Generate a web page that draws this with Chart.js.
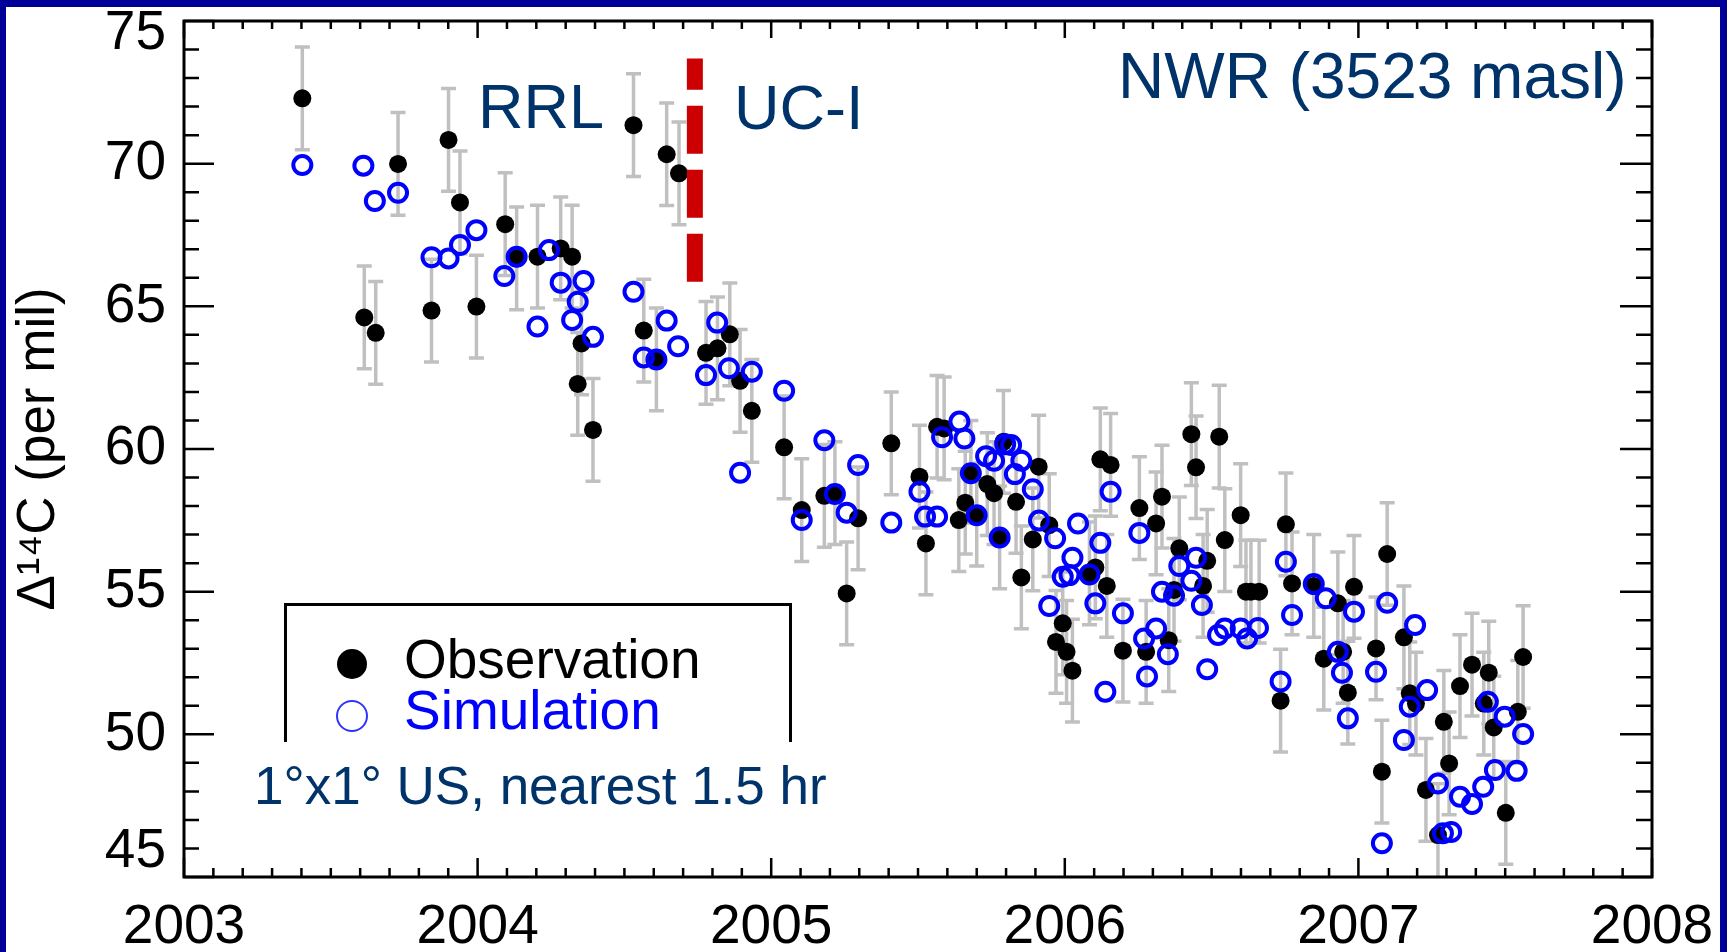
<!DOCTYPE html>
<html>
<head>
<meta charset="utf-8">
<script src="https://cdn.jsdelivr.net/npm/chart.js@4.4.0/dist/chart.umd.min.js"></script>
<style>
  html, body { margin: 0; padding: 0; background: #fff; }
  #wrap { position: relative; width: 1727px; height: 952px; overflow: hidden; }
  #chart { position: absolute; left: 0; top: 0; }
  .txt { position: absolute; font-family: "Liberation Sans", Arial, sans-serif; line-height: 1; white-space: nowrap; }
  .note { color: #00336a; }
  #legendBox { position: absolute; left: 284px; top: 603px; width: 508px; height: 160px; box-sizing: border-box;
    border: 3px solid #000; border-bottom: none; }
  .sym { position: absolute; box-sizing: border-box; border-radius: 50%; }
</style>
</head>
<body>
<div id="wrap">
  <canvas id="chart" width="1727" height="952"></canvas>
  <div id="legendBox"></div>
  <div class="sym" style="left:337px; top:649px; width:30px; height:30px; background:#000;"></div>
  <div class="sym" style="left:336px; top:700px; width:32px; height:32px; border:2px solid #3333ff;"></div>
  <div class="txt" style="left:404px; top:632px; font-size:55px; color:#000;">Observation</div>
  <div class="txt" style="left:404px; top:683px; font-size:55px; color:#0000ff;">Simulation</div>
  <div class="txt note" style="left:244px; top:742px; padding:17px 8px 14px 10px; font-size:53px; background:#fff;">1°x1° US, nearest 1.5 hr</div>
  <div class="txt note" style="left:478px; top:75px; font-size:63px;">RRL</div>
  <div class="txt note" style="left:734px; top:76px; font-size:63px;">UC-I</div>
  <div class="txt note" style="left:1118px; top:44px; font-size:64px;">NWR (3523 masl)</div>
</div>
<script>
// observations (black dots) with error bars, per mil
const obsX = [
  2003.403, 2003.614, 2003.653, 2003.729, 2003.843, 2003.901, 2003.940, 2003.996, 2004.094, 2004.133,
  2004.204, 2004.283, 2004.322, 2004.341, 2004.354, 2004.393, 2004.531, 2004.566, 2004.609, 2004.644,
  2004.686, 2004.778, 2004.817, 2004.859, 2004.894, 2004.934, 2005.044, 2005.104, 2005.181, 2005.217,
  2005.257, 2005.296, 2005.409, 2005.505, 2005.527, 2005.565, 2005.589, 2005.639, 2005.661, 2005.680,
  2005.700, 2005.736, 2005.759, 2005.778, 2005.791, 2005.834, 2005.852, 2005.891, 2005.911, 2005.947,
  2005.970, 2005.993, 2006.006, 2006.026, 2006.084, 2006.104, 2006.121, 2006.143, 2006.156, 2006.198,
  2006.254, 2006.277, 2006.311, 2006.331, 2006.354, 2006.372, 2006.390, 2006.431, 2006.447, 2006.471,
  2006.485, 2006.526, 2006.545, 2006.599, 2006.617, 2006.634, 2006.662, 2006.735, 2006.753, 2006.774,
  2006.848, 2006.882, 2006.930, 2006.948, 2006.964, 2006.985, 2007.060, 2007.080, 2007.098, 2007.155,
  2007.175, 2007.196, 2007.230, 2007.271, 2007.291, 2007.309, 2007.346, 2007.387, 2007.427, 2007.444,
  2007.461, 2007.502, 2007.543, 2007.561
];
const obsY = [
  72.29, 64.61, 64.07, 69.99, 64.85, 70.83, 68.64, 64.99, 67.88, 66.68,
  66.74, 67.03, 66.74, 62.28, 63.70, 60.67, 71.35, 64.15, 63.14, 70.33,
  69.66, 63.37, 63.53, 64.02, 62.39, 61.34, 60.06, 57.86, 58.36, 58.45,
  54.94, 57.57, 60.20, 59.03, 56.69, 60.78, 60.72, 57.51, 58.12, 59.20,
  57.70, 58.77, 58.45, 56.90, 60.25, 58.15, 55.50, 56.83, 59.38, 57.33,
  53.24, 53.89, 52.89, 52.23, 55.64, 55.85, 59.64, 55.20, 59.44, 52.93,
  57.93, 52.89, 57.39, 58.33, 53.30, 55.06, 56.52, 60.52, 59.36, 55.20,
  56.08, 60.43, 56.81, 57.68, 55.00, 55.00, 55.00, 51.18, 57.36, 55.29,
  55.20, 52.65, 54.59, 52.89, 51.46, 55.17, 53.01, 48.69, 56.32, 53.40,
  51.44, 51.08, 48.05, 46.47, 50.44, 48.98, 51.69, 52.44, 51.08, 52.16,
  50.24, 47.25, 50.79, 52.71
];
const obsErr = [
  1.8, 1.8, 1.8, 1.8, 1.8, 1.8, 1.8, 1.8, 1.8, 1.8,
  1.8, 1.8, 1.8, 1.8, 1.8, 1.8, 1.8, 1.8, 1.8, 1.8,
  1.8, 1.8, 1.8, 1.8, 1.8, 1.8, 1.8, 1.8, 1.8, 1.8,
  1.8, 1.8, 1.8, 1.8, 1.8, 1.8, 1.8, 1.8, 1.8, 1.8,
  1.8, 1.8, 1.8, 1.8, 1.8, 1.8, 1.8, 1.8, 1.8, 1.8,
  1.8, 1.8, 1.8, 1.8, 1.8, 1.8, 1.8, 1.8, 1.8, 1.8,
  1.8, 1.8, 1.8, 1.8, 1.8, 1.8, 1.8, 1.8, 1.8, 1.8,
  1.8, 1.8, 1.8, 1.8, 1.8, 1.8, 1.8, 1.8, 1.8, 1.8,
  1.8, 1.8, 1.8, 1.8, 1.8, 1.8, 1.8, 1.8, 1.8, 1.8,
  1.8, 1.8, 1.8, 1.8, 1.8, 1.8, 1.8, 1.8, 1.8, 1.8,
  1.8, 1.8, 1.8, 1.8
];

// simulation (blue open circles)
const simX = [
  2003.403, 2003.611, 2003.650, 2003.729, 2003.843, 2003.901, 2003.940, 2003.996, 2004.091, 2004.133,
  2004.204, 2004.243, 2004.283, 2004.322, 2004.341, 2004.361, 2004.393, 2004.531, 2004.566, 2004.609,
  2004.644, 2004.683, 2004.778, 2004.816, 2004.856, 2004.894, 2004.934, 2005.044, 2005.104, 2005.181,
  2005.217, 2005.257, 2005.296, 2005.409, 2005.505, 2005.524, 2005.565, 2005.582, 2005.641, 2005.658,
  2005.680, 2005.700, 2005.732, 2005.759, 2005.778, 2005.797, 2005.817, 2005.830, 2005.852, 2005.891,
  2005.912, 2005.947, 2005.967, 2005.993, 2006.016, 2006.026, 2006.045, 2006.084, 2006.104, 2006.121,
  2006.138, 2006.156, 2006.198, 2006.254, 2006.270, 2006.280, 2006.311, 2006.331, 2006.351, 2006.372,
  2006.390, 2006.431, 2006.447, 2006.467, 2006.485, 2006.522, 2006.545, 2006.599, 2006.621, 2006.658,
  2006.735, 2006.753, 2006.774, 2006.848, 2006.889, 2006.930, 2006.944, 2006.964, 2006.985, 2007.060,
  2007.080, 2007.098, 2007.155, 2007.175, 2007.193, 2007.234, 2007.271, 2007.288, 2007.316, 2007.346,
  2007.387, 2007.425, 2007.441, 2007.465, 2007.498, 2007.539, 2007.561
];
const simY = [
  69.95, 69.93, 68.69, 68.98, 66.72, 66.68, 67.15, 67.67, 66.06, 66.74,
  64.29, 66.97, 65.83, 64.52, 65.16, 65.89, 63.93, 65.51, 63.21, 63.14,
  64.50, 63.60, 62.59, 64.43, 62.83, 59.17, 62.71, 62.04, 57.51, 60.31,
  58.42, 57.77, 59.44, 57.42, 58.50, 57.63, 57.63, 60.41, 60.96, 60.37,
  59.15, 57.68, 59.75, 59.59, 56.90, 60.17, 60.14, 59.12, 59.59, 58.59,
  57.49, 54.50, 56.87, 55.52, 55.58, 56.19, 57.39, 55.60, 54.59, 56.71,
  51.49, 58.50, 54.24, 57.06, 53.36, 52.03, 53.71, 55.00, 52.81, 54.86,
  55.90, 55.38, 56.19, 54.53, 52.28, 53.48, 53.71, 53.71, 53.36, 53.73,
  51.85, 56.05, 54.18, 55.27, 54.77, 52.89, 52.16, 50.56, 54.30, 52.19,
  46.18, 54.61, 49.80, 50.97, 53.83, 51.55, 48.28, 46.53, 46.58, 47.81,
  47.56, 48.16, 51.14, 48.75, 50.62, 48.72, 50.01
];

// RRL -> UC-I lab change marker
const dividerX = [2004.74, 2004.74];
const dividerY = [65.86, 73.69];

const yearTicks = [2003, 2004, 2005, 2006, 2007, 2008];

const NAVY = "#000098";
const GRAY = "#c0c0c0";

Chart.defaults.font.family = "'Liberation Sans', Arial, sans-serif";
Chart.defaults.color = "#000";

const pts = (xs, ys) => xs.map((x, i) => ({ x, y: ys[i] }));

const decor = {
  id: "decor",
  beforeDraw(chart) {
    const { ctx, width, height } = chart;
    ctx.save();
    ctx.fillStyle = NAVY;
    ctx.fillRect(0, 0, width, height);
    ctx.fillStyle = "#fff";
    ctx.fillRect(6, 7, width - 13, height - 7);
    ctx.restore();
  },
  beforeDatasetsDraw(chart) {
    // grey error bars under the points
    const { ctx, chartArea: a } = chart;
    const { x, y } = chart.scales;
    ctx.save();
    ctx.beginPath();
    ctx.rect(a.left, a.top, a.right - a.left, a.bottom - a.top);
    ctx.clip();
    ctx.strokeStyle = GRAY;
    ctx.lineWidth = 3.5;
    obsX.forEach((v, i) => {
      const px = x.getPixelForValue(v);
      const hi = y.getPixelForValue(obsY[i] + obsErr[i]);
      const lo = y.getPixelForValue(obsY[i] - obsErr[i]);
      ctx.beginPath();
      ctx.moveTo(px, hi); ctx.lineTo(px, lo);
      ctx.moveTo(px - 7.5, hi); ctx.lineTo(px + 7.5, hi);
      ctx.moveTo(px - 7.5, lo); ctx.lineTo(px + 7.5, lo);
      ctx.stroke();
    });
    ctx.restore();
  },
  afterDraw(chart) {
    // box frame with inward ticks on all four sides
    const { ctx, chartArea: a } = chart;
    const { x, y } = chart.scales;
    ctx.save();
    ctx.strokeStyle = "#000";
    ctx.lineWidth = 3;
    ctx.strokeRect(a.left, a.top, a.right - a.left, a.bottom - a.top);
    ctx.lineWidth = 2.5;
    ctx.beginPath();
    for (let k = 0; k <= 50; k++) {
      const px = x.getPixelForValue(2003 + k / 10);
      const major = k % 10 === 0;
      ctx.moveTo(px, a.bottom); ctx.lineTo(px, a.bottom - (major ? 19 : 9));
      ctx.moveTo(px, a.top); ctx.lineTo(px, a.top + (major ? 17 : 8));
    }
    for (let v = 45; v <= 75; v++) {
      const py = y.getPixelForValue(v);
      const major = v % 5 === 0;
      ctx.moveTo(a.left, py); ctx.lineTo(a.left + (major ? 30 : 15), py);
      ctx.moveTo(a.right, py); ctx.lineTo(a.right - (major ? 32 : 16), py);
    }
    ctx.stroke();
    ctx.restore();
  }
};

new Chart(document.getElementById("chart"), {
  type: "scatter",
  data: {
    datasets: [
      {
        label: "Observation",
        data: pts(obsX, obsY),
        pointRadius: 9,
        pointBorderWidth: 0,
        backgroundColor: "#000",
        borderColor: "#000",
        order: 2
      },
      {
        label: "Simulation",
        data: pts(simX, simY),
        pointRadius: 9,
        pointBorderWidth: 4,
        backgroundColor: "rgba(0,0,0,0)",
        borderColor: "#0000ff",
        order: 1
      },
      {
        label: "RRL / UC-I",
        data: pts(dividerX, dividerY),
        showLine: true,
        pointRadius: 0,
        borderColor: "#cc0000",
        borderWidth: 16,
        borderDash: [48, 16],
        borderCapStyle: "butt",
        order: 0
      }
    ]
  },
  options: {
    responsive: false,
    animation: false,
    devicePixelRatio: 1,
    layout: { padding: { left: 0, right: 75, top: 21, bottom: 0 } },
    plugins: { legend: { display: false }, tooltip: { enabled: false } },
    scales: {
      x: {
        type: "linear",
        min: 2003,
        max: 2008,
        grid: { display: false, drawTicks: false },
        border: { display: false },
        afterBuildTicks: s => { s.ticks = yearTicks.map(value => ({ value })); },
        ticks: {
          autoSkip: false,
          maxRotation: 0,
          padding: 18,
          font: { size: 55 },
          callback: v => String(v)
        },
        afterFit: s => { s.height = 75; s.paddingLeft = 0; s.paddingRight = 0; }
      },
      y: {
        min: 45,
        max: 75,
        grid: { display: false, drawTicks: false },
        border: { display: false },
        ticks: {
          stepSize: 5,
          padding: 18,
          font: { size: 55, lineHeight: 0.45 },
          // end labels sit inside the frame, as in the original
          callback: v => v === 75 ? ["", "75"] : v === 45 ? ["45", "", ""] : String(v)
        },
        title: {
          display: true,
          text: "Δ¹⁴C (per mil)",
          font: { size: 53 },
          padding: { top: 8, bottom: 0 }
        },
        afterFit: s => { s.width = 184; s.paddingTop = 0; s.paddingBottom = 0; }
      }
    }
  },
  plugins: [decor]
});
</script>
</body>
</html>
